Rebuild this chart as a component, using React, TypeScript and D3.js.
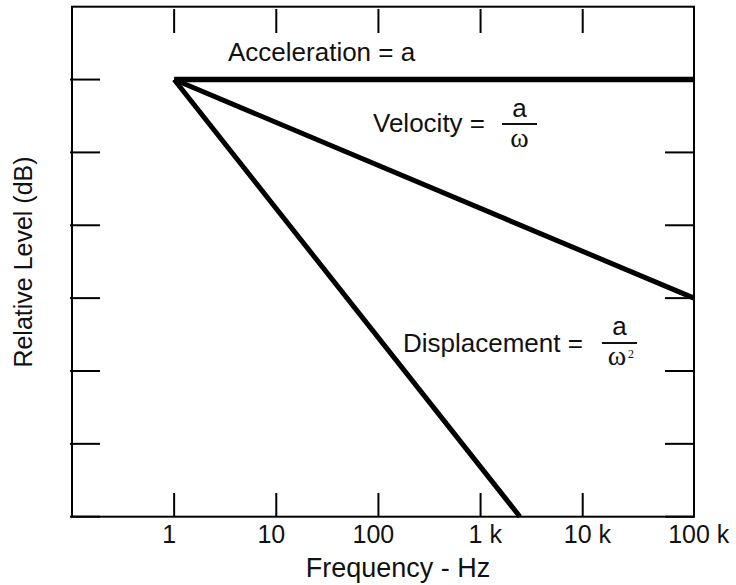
import React from "react";
import * as d3 from "d3";

const freqTicks = [1, 10, 100, 1000, 10000, 100000];
const freqTickNumbers = ["1", "10", "100", "1", "10", "100"];
const freqTickSuffix = ["", "", "", " k", " k", " k"];
const levelTicks = [0, 1, 2, 3, 4, 5, 6];

const accelerationFreq = [1, 100000];
const accelerationLevel = [6, 6];
const velocityFreq = [1, 100000];
const velocityLevel = [6, 3];
const displacementFreq = [1, 2430];
const displacementLevel = [6, 0];

const W = 736;
const H = 585;
const left = 72;
const right = 694;
const top = 6.7;
const bottom = 516.7;

const SANS = "'Liberation Sans', Arial, Helvetica, sans-serif";
const SERIF = "'Liberation Serif', 'Times New Roman', serif";

export default function App() {
  const x = d3.scaleLog().domain([0.1, 10000, 100000]).range([left, 582.7, right]);
  const y = d3.scaleLinear().domain([0, 7]).range([bottom, top]);

  const line = d3
    .line<[number, number]>()
    .x((d) => x(d[0]))
    .y((d) => y(d[1]));

  const mk = (f: number[], l: number[]) => f.map((v, i) => [v, l[i]] as [number, number]);

  const tickFont = 25;
  const digitW = 0.556 * tickFont;

  return (
    <svg
      width={W}
      height={H}
      style={{ position: "absolute", left: 0, top: 0, background: "#fff" }}
    >
      <rect x={0} y={0} width={W} height={H} fill="#fff" />
      {/* frame */}
      <rect
        x={left}
        y={top}
        width={right - left}
        height={bottom - top}
        fill="none"
        stroke="#000"
        strokeWidth={2}
      />
      {/* x ticks top & bottom */}
      {freqTicks.map((t, i) => (
        <g key={"xt" + i}>
          <line x1={x(t)} x2={x(t)} y1={9} y2={33} stroke="#000" strokeWidth={2} />
          <line x1={x(t)} x2={x(t)} y1={493} y2={bottom} stroke="#000" strokeWidth={2} />
          <text
            x={x(t) - 5 - (freqTickNumbers[i].length * digitW) / 2}
            y={543}
            fontFamily={SANS}
            fontSize={tickFont}
            fill="#111"
          >
            {freqTickNumbers[i] + freqTickSuffix[i]}
          </text>
        </g>
      ))}
      {/* y ticks left & right */}
      {levelTicks.map((t, i) => (
        <g key={"yt" + i}>
          <line x1={70} x2={100} y1={y(t)} y2={y(t)} stroke="#000" strokeWidth={2} />
          <line x1={665} x2={right} y1={y(t)} y2={y(t)} stroke="#000" strokeWidth={2} />
        </g>
      ))}
      {/* curves */}
      <path d={line(mk(velocityFreq, velocityLevel)) || ""} fill="none" stroke="#000" strokeWidth={5} />
      <path d={line(mk(displacementFreq, displacementLevel)) || ""} fill="none" stroke="#000" strokeWidth={5} />
      <path d={line(mk(accelerationFreq, accelerationLevel)) || ""} fill="none" stroke="#000" strokeWidth={5.5} />

      {/* annotations */}
      <text x={228} y={61} fontFamily={SANS} fontSize={26} fill="#111">
        Acceleration = a
      </text>

      <text x={373} y={132} fontFamily={SANS} fontSize={26} fill="#111">
        Velocity =
      </text>
      <text x={519.5} y={117} fontFamily={SANS} fontSize={26} fill="#111" textAnchor="middle">
        a
      </text>
      <line x1={502} x2={537} y1={124} y2={124} stroke="#111" strokeWidth={2} />
      <text x={519.5} y={147} fontFamily={SERIF} fontSize={28} fill="#111" textAnchor="middle">
        ω
      </text>

      <text x={403} y={352} fontFamily={SANS} fontSize={26} fill="#111">
        Displacement =
      </text>
      <text x={619.5} y={335} fontFamily={SANS} fontSize={26} fill="#111" textAnchor="middle">
        a
      </text>
      <line x1={602} x2={637} y1={343} y2={343} stroke="#111" strokeWidth={2} />
      <text x={617} y={365} fontFamily={SERIF} fontSize={28} fill="#111" textAnchor="middle">
        ω
      </text>
      <text x={628} y={358} fontFamily={SERIF} fontSize={12} fill="#111">
        2
      </text>

      {/* axis titles */}
      <text
        x={398}
        y={577}
        fontFamily={SANS}
        fontSize={27}
        fill="#111"
        textAnchor="middle"
      >
        Frequency - Hz
      </text>
      <text
        transform={`translate(31.5, 262) rotate(-90)`}
        fontFamily={SANS}
        fontSize={25}
        fill="#111"
        textAnchor="middle"
      >
        Relative Level (dB)
      </text>
    </svg>
  );
}
